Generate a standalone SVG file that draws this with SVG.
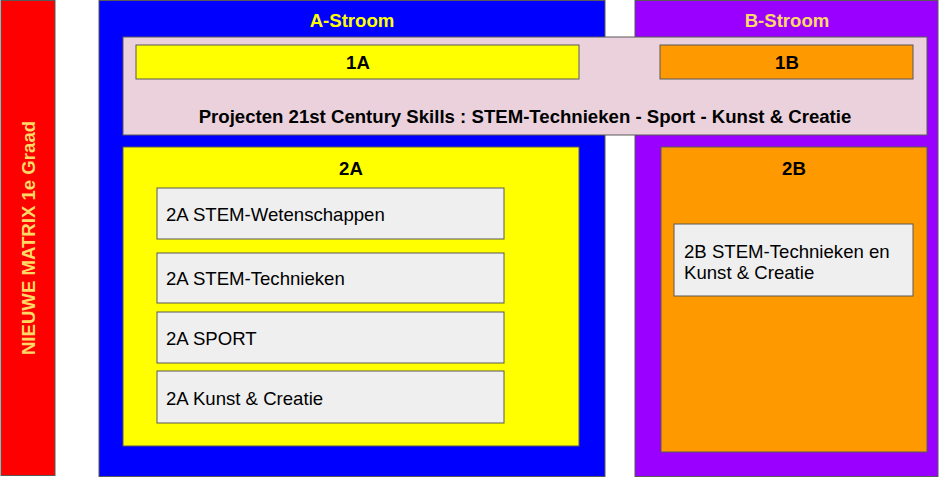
<svg xmlns="http://www.w3.org/2000/svg" width="939" height="477" viewBox="0 0 939 477">
<style>
.b{stroke:#595959;stroke-width:1}
.t{font-family:"Liberation Sans",Arial,sans-serif;font-weight:bold;font-size:18.6px;text-anchor:middle;dominant-baseline:central}
.n{font-family:"Liberation Sans",Arial,sans-serif;font-size:18.6px;fill:#000}
</style>
<rect width="939" height="477" fill="#ffffff"/>
<g id="matrix">
<rect class="b" x="1" y="0.5" width="54" height="475" fill="#ff0000"/>
<text class="t" transform="translate(28,238) rotate(-90)" fill="#ffd966">NIEUWE MATRIX 1e Graad</text>
</g>
<g id="a-stroom">
<rect class="b" x="99" y="0.5" width="506" height="476" fill="#0000ff"/>
<text class="t" x="352" y="20" fill="#ffff00">A-Stroom</text>
</g>
<g id="b-stroom">
<rect class="b" x="635" y="0.5" width="303" height="476" fill="#9900ff"/>
<text class="t" x="787" y="20" fill="#ffd966">B-Stroom</text>
</g>
<g id="projecten">
<rect class="b" x="123" y="37" width="804" height="98" fill="#ead1dc"/>
<text class="t" x="525" y="116" fill="#000">Projecten 21st Century Skills : STEM-Technieken - Sport - Kunst &amp; Creatie</text>
</g>
<g id="1a">
<rect class="b" x="136" y="45" width="443" height="34" fill="#ffff00"/>
<text class="t" x="358" y="62" fill="#000">1A</text>
</g>
<g id="1b">
<rect class="b" x="660" y="45" width="253" height="34" fill="#ff9900"/>
<text class="t" x="787" y="62" fill="#000">1B</text>
</g>
<g id="2a">
<rect class="b" x="123" y="147" width="456" height="299" fill="#ffff00"/>
<text class="t" x="351" y="168" fill="#000">2A</text>
</g>
<g id="2a-wet">
<rect class="b" x="157" y="188" width="347" height="51" fill="#efefef"/>
<text class="n" x="166" y="221">2A STEM-Wetenschappen</text>
</g>
<g id="2a-tech">
<rect class="b" x="157" y="253" width="347" height="50" fill="#efefef"/>
<text class="n" x="166" y="285">2A STEM-Technieken</text>
</g>
<g id="2a-sport">
<rect class="b" x="157" y="312" width="347" height="51" fill="#efefef"/>
<text class="n" x="166" y="345">2A SPORT</text>
</g>
<g id="2a-kunst">
<rect class="b" x="157" y="371" width="347" height="52" fill="#efefef"/>
<text class="n" x="166" y="405">2A Kunst &amp; Creatie</text>
</g>
<g id="2b">
<rect class="b" x="661" y="147" width="266" height="305" fill="#ff9900"/>
<text class="t" x="794" y="168" fill="#000">2B</text>
</g>
<g id="2b-stem">
<rect class="b" x="674" y="224" width="239" height="72" fill="#efefef"/>
<text class="n" x="684" y="258">2B STEM-Technieken en</text>
<text class="n" x="684" y="279">Kunst &amp; Creatie</text>
</g>
<g id="connectors"></g>
</svg>
